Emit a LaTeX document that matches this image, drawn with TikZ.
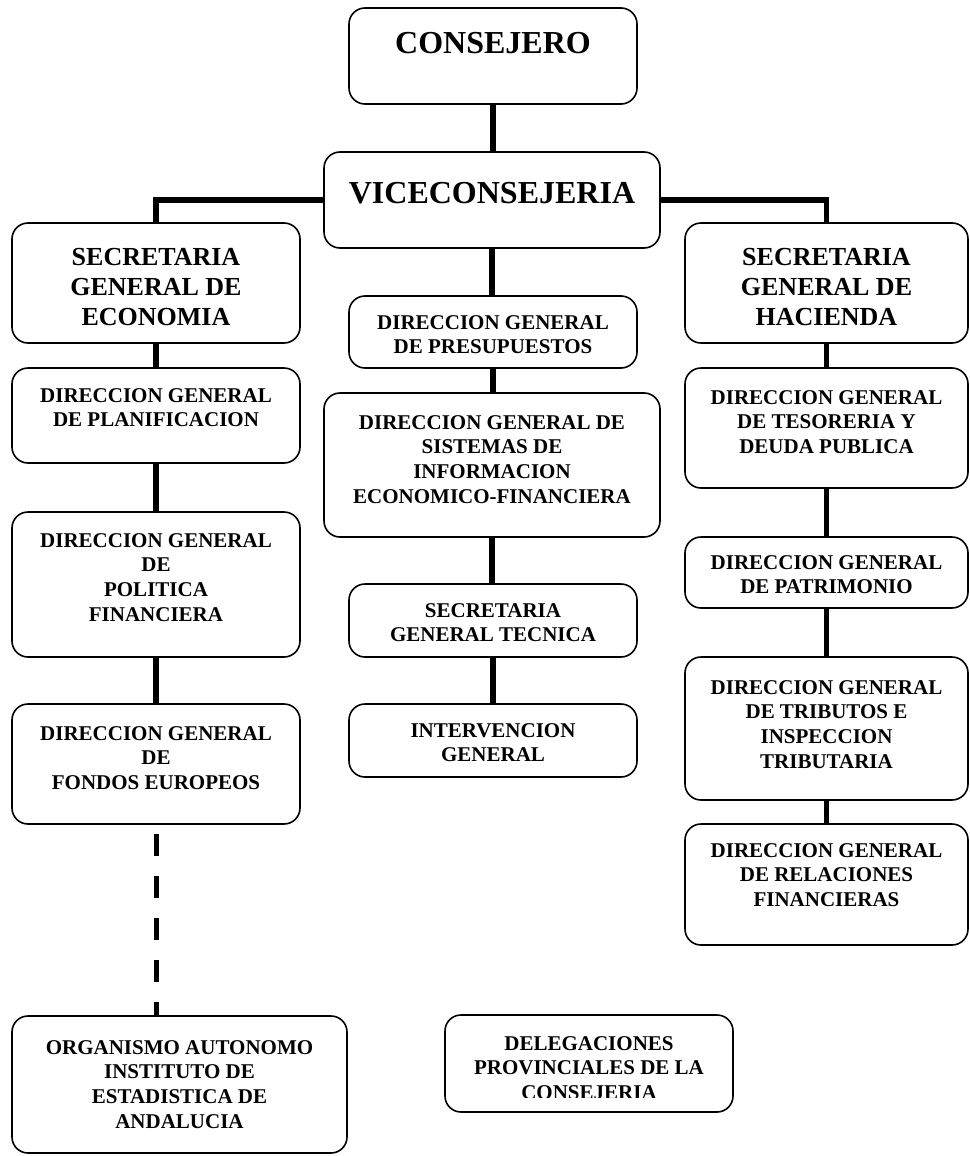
\documentclass[tikz,border=0pt]{standalone}
\usepackage{fontspec}
\setmainfont{Liberation Serif}
\usetikzlibrary{calc}

\tikzset{
  caja/.style={draw, line width=1.6pt, rounded corners=16pt, inner sep=0pt},
  linea/.style={line width=5.5pt},
  discont/.style={line width=5pt, dash pattern=on 22pt off 20pt, dash phase=33pt},
  txt/.style={anchor=north, align=center, inner sep=0pt,
    font=\fontsize{21}{24.8}\selectfont\bfseries},
  txtG/.style={txt, font=\fontsize{26}{30}\selectfont\bfseries},
  txtXL/.style={txt, font=\fontsize{32}{36}\selectfont\bfseries}
}

\begin{document}
\begin{tikzpicture}[x=1pt,y=-1pt]
\useasboundingbox (0,0) rectangle (969,1156);
% top
\node[caja, minimum width=288, minimum height=96] (cons) at (493,56) {};
\node[caja, minimum width=336, minimum height=96] (vice) at (492,200) {};
\node[txtXL] (tcons) at (493,32) {CONSEJERO};
\node[txtXL] (tvice) at (492,182) {VICECONSEJERIA};
% left column
\node[caja, minimum width=288, minimum height=120] (sge) at (156,283) {};
\node[caja, minimum width=288, minimum height=95] (plan) at (156,415.5) {};
\node[caja, minimum width=288, minimum height=145] (pol) at (156,584.5) {};
\node[caja, minimum width=288, minimum height=120] (fon) at (156,764) {};
\node[caja, minimum width=335, minimum height=137] (org) at (179.5,1084.5) {};
\node[txtG] (tsge) at (156,248) {SECRETARIA\\GENERAL DE\\ECONOMIA};
\node[txt] (tplan) at (156,388) {DIRECCION GENERAL\\DE PLANIFICACION};
\node[txt] (tpol) at (156,533) {DIRECCION GENERAL\\DE\\POLITICA\\FINANCIERA};
\node[txt] (tfon) at (156,726) {DIRECCION GENERAL\\DE\\FONDOS EUROPEOS};
\node[txt] (torg) at (179.5,1040) {ORGANISMO AUTONOMO\\INSTITUTO DE\\ESTADISTICA DE\\ANDALUCIA};
% middle column
\node[caja, minimum width=288, minimum height=72] (pres) at (493,332) {};
\node[caja, minimum width=336, minimum height=144] (sis) at (492,465) {};
\node[caja, minimum width=288, minimum height=73] (sgt) at (493,620.5) {};
\node[caja, minimum width=288, minimum height=73] (int) at (493,740.5) {};
\node[caja, minimum width=288, minimum height=97] (del) at (589,1063.5) {};
\node[txt] (tpres) at (493,315) {DIRECCION GENERAL\\DE PRESUPUESTOS};
\node[txt] (tsis) at (492,415) {DIRECCION GENERAL DE\\SISTEMAS DE\\INFORMACION\\ECONOMICO-FINANCIERA};
\node[txt] (tsgt) at (493,603) {SECRETARIA\\GENERAL TECNICA};
\node[txt] (tint) at (493,723) {INTERVENCION\\GENERAL};
\begin{scope}
\clip (440,1000) rectangle (740,1097);
\node[txt] (tdel) at (589,1036) {DELEGACIONES\\PROVINCIALES DE LA\\CONSEJERIA};
\end{scope}
% right column
\node[caja, minimum width=283, minimum height=120] (sgh) at (826.5,283) {};
\node[caja, minimum width=283, minimum height=120] (tes) at (826.5,428) {};
\node[caja, minimum width=283, minimum height=71] (pat) at (826.5,572.5) {};
\node[caja, minimum width=283, minimum height=143] (tri) at (826.5,728.5) {};
\node[caja, minimum width=283, minimum height=121] (rel) at (826.5,884.5) {};
\node[txtG] (tsgh) at (826.5,248) {SECRETARIA\\GENERAL DE\\HACIENDA};
\node[txt] (ttes) at (826.5,390) {DIRECCION GENERAL\\DE TESORERIA Y\\DEUDA PUBLICA};
\node[txt] (tpat) at (826.5,555) {DIRECCION GENERAL\\DE PATRIMONIO};
\node[txt] (ttri) at (826.5,680) {DIRECCION GENERAL\\DE TRIBUTOS E\\INSPECCION\\TRIBUTARIA};
\node[txt] (trel) at (826.5,843) {DIRECCION GENERAL\\DE RELACIONES\\FINANCIERAS};
% connectors
\draw[linea] (cons.south) -- (cons.south |- vice.north);
\draw[linea] (vice.west) -| (sge.north);
\draw[linea] (vice.east) -| (sgh.north);
\draw[linea] (vice.south) -- (vice.south |- pres.north);
%     left
\draw[linea] (sge.south) -- (plan.north);
\draw[linea] (plan.south) -- (pol.north);
\draw[linea] (pol.south) -- (fon.north);
\draw[discont] (fon.south) -- (fon.south |- org.north);
%     middle
\draw[linea] (pres.south) -- (pres.south |- sis.north);
\draw[linea] (sis.south) -- (sis.south |- sgt.north);
\draw[linea] (sgt.south) -- (int.north);
%     right
\draw[linea] (sgh.south) -- (tes.north);
\draw[linea] (tes.south) -- (pat.north);
\draw[linea] (pat.south) -- (tri.north);
\draw[linea] (tri.south) -- (rel.north);
\end{tikzpicture}
\end{document}
